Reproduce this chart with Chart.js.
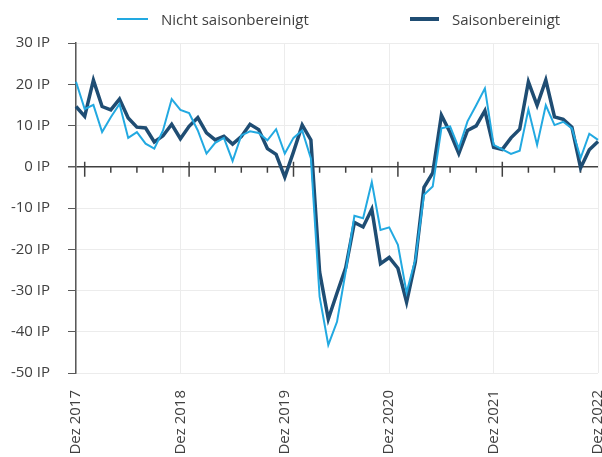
<!DOCTYPE html>
<html>
<head>
<meta charset="utf-8">
<script src="https://cdn.jsdelivr.net/npm/chart.js@4"></script>
<style>
  body { margin: 0; overflow: hidden; background: #fff; font-family: "Open Sans", sans-serif; }
  #wrap { position: relative; width: 602px; height: 457px; }
  .item { position: absolute; top: 9px; display: flex; align-items: center; font-size: 15px; color: #404040; }
  .swatch { display: inline-block; margin-right: 13px; }
</style>
</head>
<body>
<div id="wrap">
  <canvas id="chart"></canvas>
  <div class="item" style="left:117px"><span class="swatch" style="width:31px;height:2.5px;background:#22a9e1"></span>Nicht saisonbereinigt</div>
  <div class="item" style="left:410px"><span class="swatch" style="width:29px;height:4px;background:#1f4d73"></span>Saisonbereinigt</div>
</div>
<script>
// Monatswerte Dez 2017 bis Dez 2022
const monate = ['Jan', 'Feb', 'Mär', 'Apr', 'Mai', 'Jun', 'Jul', 'Aug', 'Sep', 'Okt', 'Nov', 'Dez'];
const labels = ['Dez 2017'];
for (let y = 2018; y <= 2022; y++) {
  monate.forEach(m => labels.push(m + ' ' + y));
}

const nichtSaisonbereinigt = [
  20.6, 14.0, 15.0, 8.4, 12.0, 15.2, 7.0, 8.4, 5.6, 4.4, 8.8, 16.4,
  13.8, 13.0, 8.8, 3.2, 5.8, 7.0, 1.4, 7.6, 8.6, 8.2, 6.4, 9.1,
  3.2, 7.0, 8.8, 2.0, -31.5, -43.2, -37.6, -25.4, -11.9, -12.5, -3.7, -15.3,
  -14.7, -18.9, -30.5, -22.5, -6.8, -4.8, 9.3, 9.8, 4.5, 11.0, 14.9, 19.0,
  5.3, 4.2, 3.1, 3.9, 13.9, 5.3, 14.9, 10.1, 10.9, 9.3, 2.1, 8.0,
  6.5
];

const saisonbereinigt = [
  14.6, 12.2, 21.0, 14.6, 13.8, 16.4, 11.8, 9.6, 9.4, 6.0, 7.5, 10.3,
  6.8, 9.8, 11.9, 8.2, 6.5, 7.4, 5.5, 7.3, 10.3, 9.0, 4.4, 3.0,
  -2.5, 3.6, 10.1, 6.5, -25.5, -36.9, -30.6, -24.5, -13.5, -14.6, -10.3, -23.5,
  -22.0, -24.6, -32.8, -23.1, -5.0, -1.5, 12.5, 8.3, 3.2, 8.8, 9.9, 13.6,
  4.7, 4.2, 7.0, 9.1, 20.6, 14.9, 21.0, 12.1, 11.5, 9.6, -0.3, 4.1,
  6.1
];

const achse = '#595959';

// Quartals-Striche auf der Nulllinie
const nullTicks = {
  id: 'nullTicks',
  beforeDatasetsDraw(chart) {
    const {ctx, scales: {x, y}} = chart;
    const y0 = y.getPixelForValue(0);
    ctx.save();
    ctx.strokeStyle = '#404040';
    ctx.lineWidth = 1.5;
    labels.forEach((l, i) => {
      if ((i - 1) % 3 !== 0) return;
      const px = x.getPixelForValue(i);
      const major = i % 12 === 1;
      ctx.beginPath();
      ctx.moveTo(px, major ? y0 - 5 : y0);
      ctx.lineTo(px, major ? y0 + 10 : y0 + 6);
      ctx.stroke();
    });
    ctx.restore();
  }
};

new Chart(document.getElementById('chart'), {
  type: 'line',
  data: {
    labels: labels,
    datasets: [
      {
        label: 'Nicht saisonbereinigt',
        data: nichtSaisonbereinigt,
        borderColor: '#22a9e1',
        borderWidth: 2,
        pointRadius: 0,
        tension: 0
      },
      {
        label: 'Saisonbereinigt',
        data: saisonbereinigt,
        borderColor: '#1f4d73',
        borderWidth: 3.5,
        pointRadius: 0,
        tension: 0
      }
    ]
  },
  options: {
    responsive: true,
    maintainAspectRatio: false,
    animation: false,
    layout: { padding: { top: 43, left: 8, right: 0, bottom: 0 } },
    plugins: {
      legend: { display: false },
      tooltip: { enabled: false }
    },
    scales: {
      x: {
        offset: false,
        border: { display: false },
        grid: {
          offset: false,
          drawTicks: false,
          color: c => (c.index % 12 === 0 ? '#ececec' : 'transparent')
        },
        ticks: {
          autoSkip: false,
          minRotation: 90,
          maxRotation: 90,
          padding: 17,
          color: '#404040',
          font: { family: 'Open Sans', size: 15 },
          callback: (v, i) => (i % 12 === 0 ? labels[i] : '')
        },
        afterFit: s => {
          s.height = 84;
          s.paddingLeft = 0;
          s.paddingRight = 4;
        }
      },
      y: {
        min: -50,
        max: 30,
        border: { display: true, color: achse, width: 1.5 },
        grid: {
          color: c => (c.tick && c.tick.value === 0 ? '#404040' : '#ececec'),
          lineWidth: c => (c.tick && c.tick.value === 0 ? 1.5 : 1),
          tickColor: achse,
          tickLength: 8
        },
        ticks: {
          stepSize: 10,
          padding: 18,
          color: '#404040',
          font: { family: 'Open Sans', size: 15 },
          callback: v => v + ' IP'
        },
        afterFit: s => {
          s.width = 68;
        }
      }
    }
  },
  plugins: [nullTicks]
});
</script>
</body>
</html>
